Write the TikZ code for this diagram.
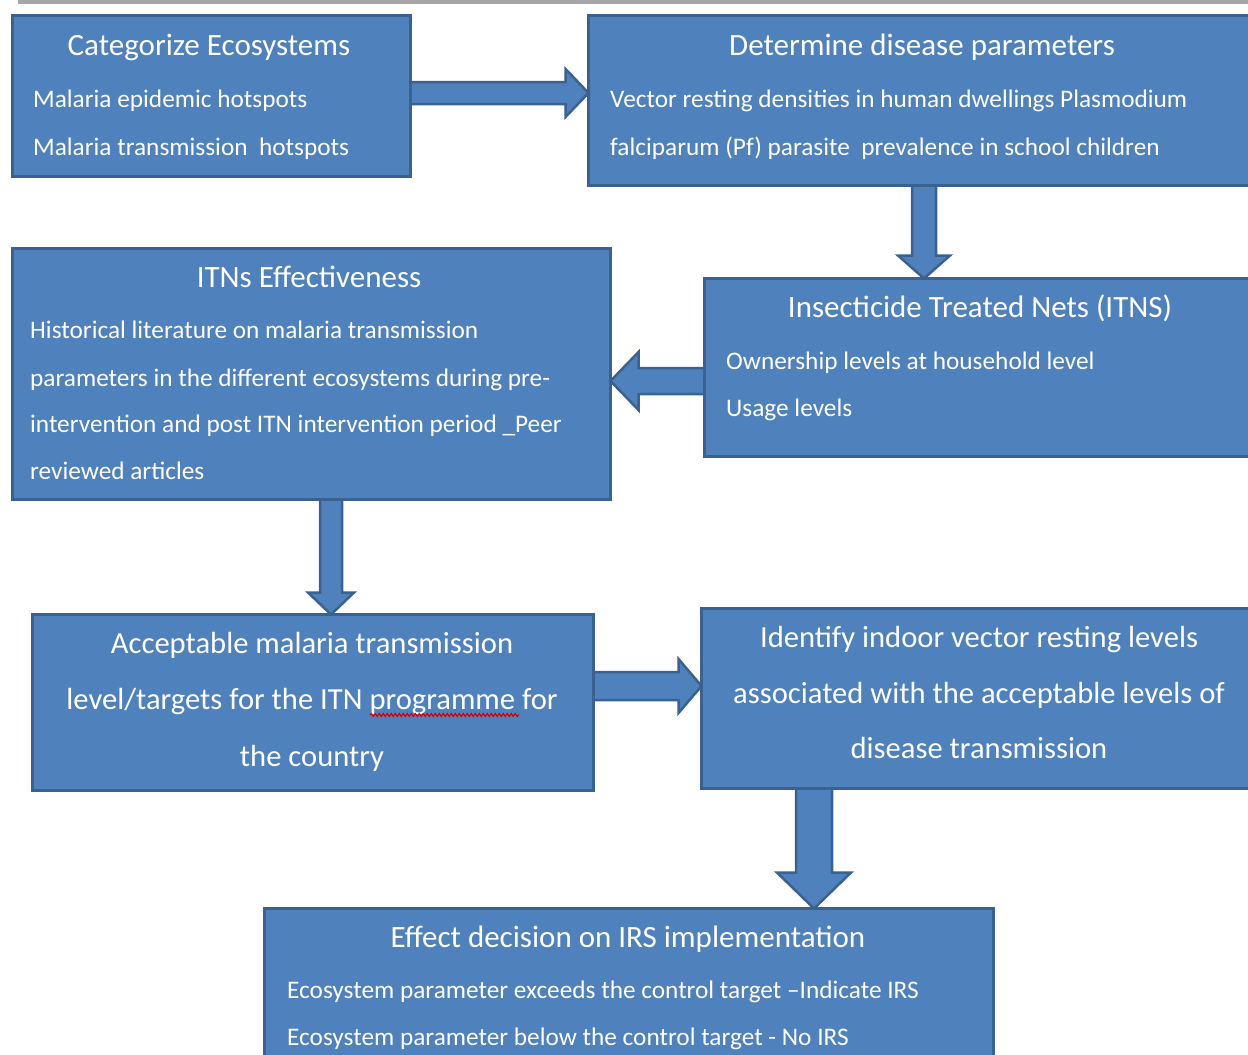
\documentclass[tikz,border=0pt]{standalone}
\usepackage{fontspec}
\setmainfont{Carlito}
\usetikzlibrary{calc,decorations.pathmorphing}
\definecolor{boxfill}{HTML}{4F81BD}
\definecolor{boxline}{HTML}{3B6190}
\definecolor{topline}{HTML}{A6A6A6}
\begin{document}
\begin{tikzpicture}[x=1pt,y=-1pt,
 box/.style={draw=boxline, fill=boxfill, line width=3pt, rectangle, inner sep=0pt, outer sep=0pt, anchor=north west},
 barrow/.style={draw=boxline, fill=boxfill, line width=2.5pt, line join=miter},
 title/.style={text=white, font=\fontsize{31}{31}\selectfont, inner sep=0pt, text height=0.7em, text depth=0.2em, yshift=-7pt},
 body/.style={text=white, font=\fontsize{25.3}{25.3}\selectfont, inner sep=0pt, anchor=west, text height=0.7em, text depth=0.2em, yshift=-7pt},
 big/.style={text=white, font=\fontsize{30.6}{30.6}\selectfont, inner sep=0pt, text height=0.7em, text depth=0.2em, yshift=-7pt}]
\useasboundingbox (0,0) rectangle (1248,1055);
\clip (0,0) rectangle (1248,1055);
\fill[white] (0,0) rectangle (1248,1055);
\fill[topline] (18,0) rectangle (1248,4);

% boxes
\node[box, minimum width=398pt, minimum height=161pt] (b1) at (12.5,15.5) {};
\node[box, minimum width=700pt, minimum height=170pt] (b2) at (588.5,15.5) {};
\node[box, minimum width=598pt, minimum height=251pt] (b3) at (12.5,248.5) {};
\node[box, minimum width=600pt, minimum height=178pt] (b4) at (704.5,278.5) {};
\node[box, minimum width=561pt, minimum height=176pt] (b5) at (32.5,614.5) {};
\node[box, minimum width=600pt, minimum height=180pt] (b6) at (701.5,608.5) {};
\node[box, minimum width=729pt, minimum height=200pt] (b7) at (264.5,908.5) {};

% arrow end points
\coordinate (a1s) at (b1.east |- 0,93);
\coordinate (a1e) at (b2.west |- 0,93);
\coordinate (a2s) at (924,0 |- b2.south);
\coordinate (a2e) at (924,0 |- b4.north);
\coordinate (a3s) at (b4.west |- 0,381);
\coordinate (a3e) at (b3.east |- 0,381);
\coordinate (a4s) at (331,0 |- b3.south);
\coordinate (a4e) at (331,0 |- b5.north);
\coordinate (a5s) at (b5.east |- 0,686);
\coordinate (a5e) at (b6.west |- 0,686);
\coordinate (a6s) at (814,0 |- b6.south);
\coordinate (a6e) at (814,0 |- b7.north);

% block arrows
\draw[barrow] ($(a1s)+(0,-11)$) -- ($(a1e)+(-23,-11)$) -- ($(a1e)+(-23,-24)$) -- (a1e)
  -- ($(a1e)+(-23,24)$) -- ($(a1e)+(-23,11)$) -- ($(a1s)+(0,11)$) -- cycle;
\draw[barrow] ($(a2s)+(-12,0)$) -- ($(a2e)+(-12,-23)$) -- ($(a2e)+(-26,-23)$) -- (a2e)
  -- ($(a2e)+(26,-23)$) -- ($(a2e)+(12,-23)$) -- ($(a2s)+(12,0)$) -- cycle;
\draw[barrow] ($(a3s)+(0,-13)$) -- ($(a3e)+(28,-13)$) -- ($(a3e)+(28,-29)$) -- (a3e)
  -- ($(a3e)+(28,29)$) -- ($(a3e)+(28,13)$) -- ($(a3s)+(0,13)$) -- cycle;
\draw[barrow] ($(a4s)+(-11,0)$) -- ($(a4e)+(-11,-22)$) -- ($(a4e)+(-23,-22)$) -- (a4e)
  -- ($(a4e)+(23,-22)$) -- ($(a4e)+(11,-22)$) -- ($(a4s)+(11,0)$) -- cycle;
\draw[barrow] ($(a5s)+(0,-14)$) -- ($(a5e)+(-23,-14)$) -- ($(a5e)+(-23,-27)$) -- (a5e)
  -- ($(a5e)+(-23,27)$) -- ($(a5e)+(-23,14)$) -- ($(a5s)+(0,14)$) -- cycle;
\draw[barrow] ($(a6s)+(-18,0)$) -- ($(a6e)+(-18,-36)$) -- ($(a6e)+(-37,-36)$) -- (a6e)
  -- ($(a6e)+(37,-36)$) -- ($(a6e)+(18,-36)$) -- ($(a6s)+(18,0)$) -- cycle;

% redraw box borders over arrow ends
\foreach \b in {b1,b2,b3,b4,b5,b6,b7} {\draw[boxline, line width=3pt] (\b.north west) rectangle (\b.south east);}

% texts box 1
\node[title] (t1) at (209,46) {Categorize Ecosystems};
\node[body] (t1a) at (33,98) {Malaria epidemic hotspots};
\node[body] (t1b) at (33,146) {Malaria transmission\ \ hotspots};
% box 2
\node[title] (t2) at (922,46) {Determine disease parameters};
\node[body] (t2a) at (610,98) {Vector resting densities in human dwellings Plasmodium};
\node[body] (t2b) at (610,146) {falciparum (Pf) parasite\ \ prevalence in school children};
% box 3
\node[title] (t3) at (309,278) {ITNs Effectiveness};
\node[body] (t3a) at (30,329) {Historical literature on malaria transmission};
\node[body] (t3b) at (30,377) {parameters in the different ecosystems during pre-};
\node[body] (t3c) at (30,423) {intervention and post ITN intervention period \_Peer};
\node[body] (t3d) at (30,470) {reviewed articles};
% box 4
\node[title] (t4) at (980,308) {Insecticide Treated Nets (ITNS)};
\node[body] (t4a) at (726,360) {Ownership levels at household level};
\node[body] (t4b) at (726,407) {Usage levels};
% box 5
\node[big] (t5a) at (312,644) {Acceptable malaria transmission};
\node[big] (t5b) at (312,700) {level/targets for the ITN programme for};
\node[big] (t5c) at (312,757) {the country};
\draw[red!85!black, line width=1.2pt, decorate, decoration={snake, amplitude=1.4pt, segment length=4pt}] (370,715) -- (519,715);
% box 6
\node[big] (t6a) at (979,638) {Identify indoor vector resting levels};
\node[big] (t6b) at (979,694) {associated with the acceptable levels of};
\node[big] (t6c) at (979,749) {disease transmission};
% box 7
\node[title] (t7) at (628,938) {Effect decision on IRS implementation};
\node[body] (t7a) at (287,989) {Ecosystem parameter exceeds the control target –Indicate IRS};
\node[body] (t7b) at (287,1036) {Ecosystem parameter below the control target - No IRS};
\end{tikzpicture}
\end{document}
